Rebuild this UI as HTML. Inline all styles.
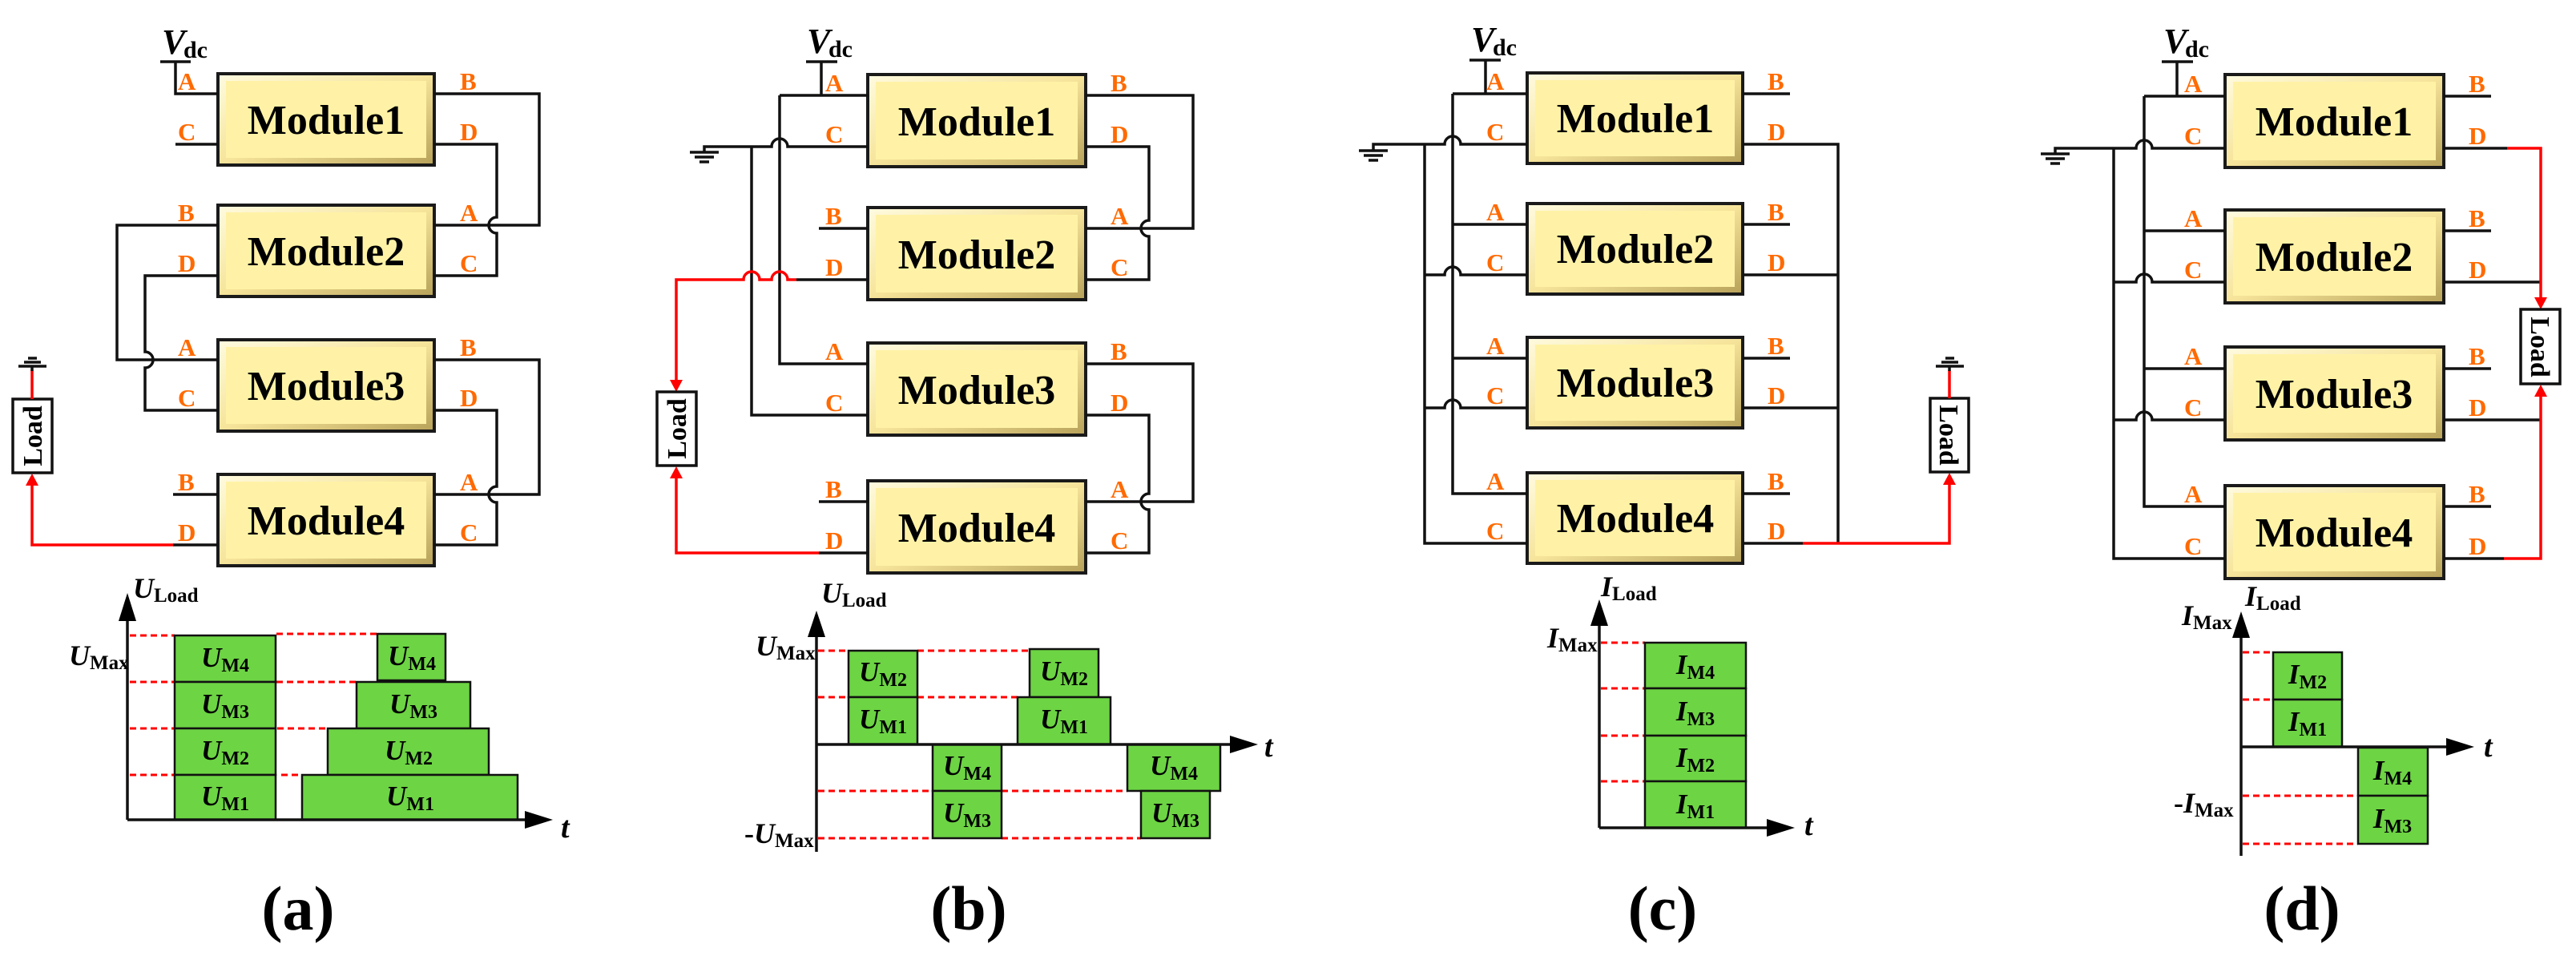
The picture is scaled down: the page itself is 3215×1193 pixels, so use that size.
<!DOCTYPE html>
<html><head><meta charset="utf-8"><style>
html,body{margin:0;padding:0;background:#fff}
svg{display:block}
.w{fill:none;stroke:#111;stroke-width:3.5;stroke-linejoin:miter}
.r{fill:none;stroke:#ff0000;stroke-width:3.5}
.d{fill:none;stroke:#ff0000;stroke-width:3;stroke-dasharray:8 5}
.mb{fill:url(#yg);stroke:#1a1a1a;stroke-width:4}
.mi{fill:#fff2a6;stroke:none}
.mt{font-family:"Liberation Serif",serif;font-weight:bold;font-size:52px;text-anchor:middle;fill:#000}
.p{font-family:"Liberation Serif",serif;font-weight:bold;font-size:31px;fill:#ff6a00}
.g{fill:#6dd444;stroke:#111;stroke-width:2.5}
.c{font-family:"Liberation Serif",serif;font-weight:bold;fill:#000}
.it{font-style:italic}
.ld{font-family:"Liberation Serif",serif;font-weight:bold;font-size:34px;text-anchor:middle;fill:#000}
.fl{font-family:"Liberation Serif",serif;font-weight:bold;font-size:78px;text-anchor:middle;fill:#000}
</style></head><body>
<svg width="3215" height="1193" viewBox="0 0 3215 1193" xmlns="http://www.w3.org/2000/svg">
<defs>
<linearGradient id="yg" x1="0" y1="0" x2="1" y2="1">
<stop offset="0" stop-color="#fffbe0"/><stop offset="0.5" stop-color="#f6e49a"/><stop offset="1" stop-color="#b8a25a"/>
</linearGradient>
</defs>
<rect width="3215" height="1193" fill="#fff"/>

<!-- ================= PANEL A ================= -->
<g>
<rect class="mb" x="272" y="92" width="270" height="114"/><rect class="mi" x="282" y="101" width="250" height="96"/>
<rect class="mb" x="272" y="256" width="270" height="114"/><rect class="mi" x="282" y="265" width="250" height="96"/>
<rect class="mb" x="272" y="424" width="270" height="114"/><rect class="mi" x="282" y="433" width="250" height="96"/>
<rect class="mb" x="272" y="592" width="270" height="114"/><rect class="mi" x="282" y="601" width="250" height="96"/>
<text class="mt" x="407" y="167">Module1</text>
<text class="mt" x="407" y="331">Module2</text>
<text class="mt" x="407" y="499">Module3</text>
<text class="mt" x="407" y="667">Module4</text>
<path class="w" d="M200 77 H238 M219 77 V117 H272 M219 180 H272"/>
<path class="w" d="M542 117 H673 V281 H542"/>
<path class="w" d="M542 180 H620 V271 A10 10 0 0 0 620 291 V344 H542"/>
<path class="w" d="M272 281 H146 V449 H272"/>
<path class="w" d="M272 344 H181 V439 A10 10 0 0 1 181 459 V512 H272"/>
<path class="w" d="M542 449 H673 V617 H542"/>
<path class="w" d="M542 512 H620 V607 A10 10 0 0 0 620 627 V680 H542"/>
<path class="w" d="M216 617 H272 M216 680 H272"/>
<path class="r" d="M216 680 H40 V604"/>
<polygon points="40,591 32,606 48,606" fill="#ff0000"/>
<rect x="16" y="498" width="49" height="92" fill="#fff" stroke="#111" stroke-width="3.5"/>
<text class="ld" transform="translate(52,544) rotate(-90)">Load</text>
<path class="r" d="M40 498 V462"/>
<path class="w" d="M40 463 V457 M23 457 H58 M30 452 H51 M35 447 H46"/>
<text class="c it" x="202" y="67" font-size="44">V</text><text class="c" x="229" y="72" font-size="30">dc</text>
<text class="p" x="222" y="112">A</text><text class="p" x="222" y="175">C</text>
<text class="p" x="222" y="276">B</text><text class="p" x="222" y="339">D</text>
<text class="p" x="222" y="444">A</text><text class="p" x="222" y="507">C</text>
<text class="p" x="222" y="612">B</text><text class="p" x="222" y="675">D</text>
<text class="p" x="574" y="112">B</text><text class="p" x="574" y="175">D</text>
<text class="p" x="574" y="276">A</text><text class="p" x="574" y="339">C</text>
<text class="p" x="574" y="444">B</text><text class="p" x="574" y="507">D</text>
<text class="p" x="574" y="612">A</text><text class="p" x="574" y="675">C</text>
<!-- chart a -->
<path class="d" d="M162 793 H218 M162 851 H218 M162 909 H218 M162 967 H218 M345 791 H471 M345 851 H445 M346 909 H409 M351 967 H376"/>
<rect class="g" x="218" y="793" width="126" height="58"/><rect class="g" x="218" y="851" width="126" height="58"/>
<rect class="g" x="218" y="909" width="126" height="58"/><rect class="g" x="218" y="967" width="126" height="56"/>
<rect class="g" x="471" y="791" width="85" height="58"/><rect class="g" x="445" y="851" width="142" height="58"/>
<rect class="g" x="409" y="909" width="201" height="58"/><rect class="g" x="377" y="967" width="269" height="56"/>
<path class="w" d="M159 1023 V770 M159 1023 H660"/>
<polygon points="159,740 148,775 170,775" fill="#000"/><polygon points="690,1023 655,1012 655,1034" fill="#000"/>
<g class="c" font-size="35" text-anchor="middle">
<text x="281" y="832"><tspan class="it">U</tspan><tspan font-size="24" dy="6">M4</tspan></text>
<text x="281" y="890"><tspan class="it">U</tspan><tspan font-size="24" dy="6">M3</tspan></text>
<text x="281" y="948"><tspan class="it">U</tspan><tspan font-size="24" dy="6">M2</tspan></text>
<text x="281" y="1005"><tspan class="it">U</tspan><tspan font-size="24" dy="6">M1</tspan></text>
<text x="514" y="830"><tspan class="it">U</tspan><tspan font-size="24" dy="6">M4</tspan></text>
<text x="516" y="890"><tspan class="it">U</tspan><tspan font-size="24" dy="6">M3</tspan></text>
<text x="510" y="948"><tspan class="it">U</tspan><tspan font-size="24" dy="6">M2</tspan></text>
<text x="512" y="1005"><tspan class="it">U</tspan><tspan font-size="24" dy="6">M1</tspan></text>
</g>
<text class="c" x="166" y="746" font-size="36"><tspan class="it">U</tspan><tspan font-size="25" dy="5">Load</tspan></text>
<text class="c" x="86" y="830" font-size="36"><tspan class="it">U</tspan><tspan font-size="25" dy="5">Max</tspan></text>
<text class="c it" x="700" y="1045" font-size="38">t</text>
<text class="fl" x="372" y="1160">(a)</text>
</g>

<!-- ================= PANEL B ================= -->
<g>
<rect class="mb" x="1083" y="93" width="272" height="115"/><rect class="mi" x="1093" y="102" width="252" height="97"/>
<rect class="mb" x="1083" y="259" width="272" height="115"/><rect class="mi" x="1093" y="268" width="252" height="97"/>
<rect class="mb" x="1083" y="428" width="272" height="115"/><rect class="mi" x="1093" y="437" width="252" height="97"/>
<rect class="mb" x="1083" y="600" width="272" height="115"/><rect class="mi" x="1093" y="609" width="252" height="97"/>
<text class="mt" x="1219" y="169">Module1</text>
<text class="mt" x="1219" y="335">Module2</text>
<text class="mt" x="1219" y="504">Module3</text>
<text class="mt" x="1219" y="676">Module4</text>
<path class="w" d="M1006 77 H1045 M1025 77 V119"/>
<path class="w" d="M973 119 H1083 M973 119 V454 H1083"/>
<path class="w" d="M879 190 V183 H963 A10 10 0 0 1 983 183 H1083 M861 190 H897 M867 196 H891 M873 202 H885"/>
<path class="w" d="M938 183 V518 H1083"/>
<path class="w" d="M1022 285 H1083 M994 349 H1083 M1022 626 H1083 M1022 690 H1083"/>
<path class="r" d="M994 349 H983 A10 10 0 0 0 963 349 H948 A10 10 0 0 0 928 349 H844 V476"/>
<polygon points="844,489 836,474 852,474" fill="#ff0000"/>
<path class="r" d="M1022 690 H844 V596"/>
<polygon points="844,582 836,597 852,597" fill="#ff0000"/>
<rect x="820" y="489" width="49" height="92" fill="#fff" stroke="#111" stroke-width="3.5"/>
<text class="ld" transform="translate(856,535) rotate(-90)">Load</text>
<path class="w" d="M1355 119 H1489 V285 H1355"/>
<path class="w" d="M1355 183 H1434 V275 A10 10 0 0 0 1434 295 V349 H1355"/>
<path class="w" d="M1355 454 H1489 V626 H1355"/>
<path class="w" d="M1355 518 H1434 V616 A10 10 0 0 0 1434 636 V690 H1355"/>
<text class="c it" x="1007" y="66" font-size="44">V</text><text class="c" x="1034" y="71" font-size="30">dc</text>
<text class="p" x="1030" y="114">A</text><text class="p" x="1030" y="178">C</text>
<text class="p" x="1030" y="280">B</text><text class="p" x="1030" y="344">D</text>
<text class="p" x="1030" y="449">A</text><text class="p" x="1030" y="513">C</text>
<text class="p" x="1030" y="621">B</text><text class="p" x="1030" y="685">D</text>
<text class="p" x="1386" y="114">B</text><text class="p" x="1386" y="178">D</text>
<text class="p" x="1386" y="280">A</text><text class="p" x="1386" y="344">C</text>
<text class="p" x="1386" y="449">B</text><text class="p" x="1386" y="513">D</text>
<text class="p" x="1386" y="621">A</text><text class="p" x="1386" y="685">C</text>
<!-- chart b -->
<path class="d" d="M1021 812 H1059 M1145 812 H1285 M1021 870 H1059 M1145 870 H1270 M1021 987 H1164 M1250 987 H1407 M1021 1046 H1164 M1250 1046 H1424"/>
<rect class="g" x="1059" y="812" width="86" height="58"/><rect class="g" x="1059" y="870" width="86" height="59"/>
<rect class="g" x="1164" y="929" width="86" height="58"/><rect class="g" x="1164" y="987" width="86" height="59"/>
<rect class="g" x="1285" y="810" width="86" height="60"/><rect class="g" x="1270" y="870" width="116" height="59"/>
<rect class="g" x="1407" y="929" width="116" height="58"/><rect class="g" x="1424" y="987" width="86" height="59"/>
<path class="w" d="M1019 1063 V790 M1019 929 H1540"/>
<polygon points="1019,762 1008,795 1030,795" fill="#000"/><polygon points="1570,929 1535,918 1535,940" fill="#000"/>
<g class="c" font-size="35" text-anchor="middle">
<text x="1102" y="850"><tspan class="it">U</tspan><tspan font-size="24" dy="6">M2</tspan></text>
<text x="1102" y="909"><tspan class="it">U</tspan><tspan font-size="24" dy="6">M1</tspan></text>
<text x="1207" y="967"><tspan class="it">U</tspan><tspan font-size="24" dy="6">M4</tspan></text>
<text x="1207" y="1026"><tspan class="it">U</tspan><tspan font-size="24" dy="6">M3</tspan></text>
<text x="1328" y="849"><tspan class="it">U</tspan><tspan font-size="24" dy="6">M2</tspan></text>
<text x="1328" y="909"><tspan class="it">U</tspan><tspan font-size="24" dy="6">M1</tspan></text>
<text x="1465" y="967"><tspan class="it">U</tspan><tspan font-size="24" dy="6">M4</tspan></text>
<text x="1467" y="1026"><tspan class="it">U</tspan><tspan font-size="24" dy="6">M3</tspan></text>
</g>
<text class="c" x="1025" y="752" font-size="36"><tspan class="it">U</tspan><tspan font-size="25" dy="5">Load</tspan></text>
<text class="c" x="943" y="818" font-size="36"><tspan class="it">U</tspan><tspan font-size="25" dy="5">Max</tspan></text>
<text class="c" x="929" y="1052" font-size="36">-<tspan class="it">U</tspan><tspan font-size="25" dy="5">Max</tspan></text>
<text class="c it" x="1578" y="944" font-size="38">t</text>
<text class="fl" x="1209" y="1160">(b)</text>
</g>

<!-- ================= PANEL C ================= -->
<g>
<rect class="mb" x="1906" y="91" width="269" height="113"/><rect class="mi" x="1916" y="100" width="249" height="95"/>
<rect class="mb" x="1906" y="254" width="269" height="113"/><rect class="mi" x="1916" y="263" width="249" height="95"/>
<rect class="mb" x="1906" y="421" width="269" height="113"/><rect class="mi" x="1916" y="430" width="249" height="95"/>
<rect class="mb" x="1906" y="590" width="269" height="113"/><rect class="mi" x="1916" y="599" width="249" height="95"/>
<text class="mt" x="2041" y="165">Module1</text>
<text class="mt" x="2041" y="328">Module2</text>
<text class="mt" x="2041" y="495">Module3</text>
<text class="mt" x="2041" y="664">Module4</text>
<path class="w" d="M1834 75 H1873 M1854 75 V117"/>
<path class="w" d="M1813 117 H1906 M1813 117 V616 H1906 M1813 280 H1906 M1813 447 H1906"/>
<path class="w" d="M1714 188 V180 H1803 A10 10 0 0 1 1823 180 H1906 M1696 188 H1732 M1702 194 H1726 M1708 200 H1720"/>
<path class="w" d="M1778 180 V678 H1906 M1778 343 H1803 A10 10 0 0 1 1823 343 H1906 M1778 509 H1803 A10 10 0 0 1 1823 509 H1906"/>
<path class="w" d="M2175 117 H2234 M2175 280 H2234 M2175 447 H2234 M2175 616 H2234"/>
<path class="w" d="M2175 180 H2294 V678 M2175 343 H2294 M2175 509 H2294 M2175 678 H2250"/>
<path class="r" d="M2250 678 H2433 V604"/>
<polygon points="2433,590 2425,605 2441,605" fill="#ff0000"/>
<rect x="2409" y="497" width="48" height="92" fill="#fff" stroke="#111" stroke-width="3.5"/>
<text class="ld" transform="translate(2421,543) rotate(90)">Load</text>
<path class="r" d="M2433 497 V462"/>
<path class="w" d="M2433 463 V457 M2416 457 H2451 M2423 452 H2444 M2428 447 H2439"/>
<text class="c it" x="1836" y="64" font-size="44">V</text><text class="c" x="1863" y="69" font-size="30">dc</text>
<text class="p" x="1855" y="112">A</text><text class="p" x="1855" y="175">C</text>
<text class="p" x="1855" y="275">A</text><text class="p" x="1855" y="338">C</text>
<text class="p" x="1855" y="442">A</text><text class="p" x="1855" y="504">C</text>
<text class="p" x="1855" y="611">A</text><text class="p" x="1855" y="673">C</text>
<text class="p" x="2206" y="112">B</text><text class="p" x="2206" y="175">D</text>
<text class="p" x="2206" y="275">B</text><text class="p" x="2206" y="338">D</text>
<text class="p" x="2206" y="442">B</text><text class="p" x="2206" y="504">D</text>
<text class="p" x="2206" y="611">B</text><text class="p" x="2206" y="673">D</text>
<!-- chart c -->
<path class="d" d="M1998 802 H2053 M1998 859 H2053 M1998 918 H2053 M1998 975 H2053"/>
<rect class="g" x="2053" y="802" width="126" height="57"/><rect class="g" x="2053" y="859" width="126" height="59"/>
<rect class="g" x="2053" y="918" width="126" height="57"/><rect class="g" x="2053" y="975" width="126" height="58"/>
<path class="w" d="M1996 1033 V775 M1996 1033 H2210"/>
<polygon points="1996,748 1985,781 2007,781" fill="#000"/><polygon points="2240,1033 2205,1022 2205,1044" fill="#000"/>
<g class="c" font-size="35" text-anchor="middle">
<text x="2116" y="841"><tspan class="it">I</tspan><tspan font-size="24" dy="6">M4</tspan></text>
<text x="2116" y="899"><tspan class="it">I</tspan><tspan font-size="24" dy="6">M3</tspan></text>
<text x="2116" y="957"><tspan class="it">I</tspan><tspan font-size="24" dy="6">M2</tspan></text>
<text x="2116" y="1015"><tspan class="it">I</tspan><tspan font-size="24" dy="6">M1</tspan></text>
</g>
<text class="c" x="1998" y="744" font-size="36"><tspan class="it">I</tspan><tspan font-size="25" dy="5">Load</tspan></text>
<text class="c" x="1931" y="808" font-size="36"><tspan class="it">I</tspan><tspan font-size="25" dy="5">Max</tspan></text>
<text class="c it" x="2252" y="1042" font-size="38">t</text>
<text class="fl" x="2075" y="1160">(c)</text>
</g>

<!-- ================= PANEL D ================= -->
<g>
<rect class="mb" x="2777" y="93" width="273" height="116"/><rect class="mi" x="2787" y="102" width="253" height="98"/>
<rect class="mb" x="2777" y="262" width="273" height="116"/><rect class="mi" x="2787" y="271" width="253" height="98"/>
<rect class="mb" x="2777" y="433" width="273" height="116"/><rect class="mi" x="2787" y="442" width="253" height="98"/>
<rect class="mb" x="2777" y="606" width="273" height="116"/><rect class="mi" x="2787" y="615" width="253" height="98"/>
<text class="mt" x="2913" y="169">Module1</text>
<text class="mt" x="2913" y="338">Module2</text>
<text class="mt" x="2913" y="509">Module3</text>
<text class="mt" x="2913" y="682">Module4</text>
<path class="w" d="M2698 77 H2737 M2717 77 V120"/>
<path class="w" d="M2676 120 H2777 M2676 120 V632 H2777 M2676 288 H2777 M2676 460 H2777"/>
<path class="w" d="M2565 192 V185 H2666 A10 10 0 0 1 2686 185 H2777 M2547 192 H2583 M2553 198 H2577 M2559 204 H2571"/>
<path class="w" d="M2638 185 V697 H2777 M2638 352 H2666 A10 10 0 0 1 2686 352 H2777 M2638 524 H2666 A10 10 0 0 1 2686 524 H2777"/>
<path class="w" d="M3050 120 H3109 M3050 288 H3109 M3050 460 H3109 M3050 632 H3109"/>
<path class="w" d="M3050 185 H3129 M3050 352 H3171 M3050 524 H3171 M3050 697 H3125"/>
<path class="r" d="M3129 185 H3171 V372"/>
<polygon points="3171,386 3163,371 3179,371" fill="#ff0000"/>
<path class="r" d="M3125 697 H3171 V494"/>
<polygon points="3171,480 3163,495 3179,495" fill="#ff0000"/>
<rect x="3146" y="386" width="49" height="93" fill="#fff" stroke="#111" stroke-width="3.5"/>
<text class="ld" transform="translate(3159,433) rotate(90)">Load</text>
<text class="c it" x="2700" y="66" font-size="44">V</text><text class="c" x="2727" y="71" font-size="30">dc</text>
<text class="p" x="2726" y="115">A</text><text class="p" x="2726" y="180">C</text>
<text class="p" x="2726" y="283">A</text><text class="p" x="2726" y="347">C</text>
<text class="p" x="2726" y="455">A</text><text class="p" x="2726" y="519">C</text>
<text class="p" x="2726" y="627">A</text><text class="p" x="2726" y="692">C</text>
<text class="p" x="3081" y="115">B</text><text class="p" x="3081" y="180">D</text>
<text class="p" x="3081" y="283">B</text><text class="p" x="3081" y="347">D</text>
<text class="p" x="3081" y="455">B</text><text class="p" x="3081" y="519">D</text>
<text class="p" x="3081" y="627">B</text><text class="p" x="3081" y="692">D</text>
<!-- chart d -->
<path class="d" d="M2799 814 H2837 M2799 873 H2837 M2799 993 H2943 M2799 1053 H2943"/>
<rect class="g" x="2837" y="814" width="86" height="59"/><rect class="g" x="2837" y="873" width="86" height="59"/>
<rect class="g" x="2943" y="933" width="87" height="60"/><rect class="g" x="2943" y="993" width="87" height="60"/>
<path class="w" d="M2797 1068 V795 M2797 932 H3058"/>
<polygon points="2797,763 2786,796 2808,796" fill="#000"/><polygon points="3088,932 3053,921 3053,943" fill="#000"/>
<g class="c" font-size="35" text-anchor="middle">
<text x="2880" y="853"><tspan class="it">I</tspan><tspan font-size="24" dy="6">M2</tspan></text>
<text x="2880" y="912"><tspan class="it">I</tspan><tspan font-size="24" dy="6">M1</tspan></text>
<text x="2986" y="973"><tspan class="it">I</tspan><tspan font-size="24" dy="6">M4</tspan></text>
<text x="2986" y="1033"><tspan class="it">I</tspan><tspan font-size="24" dy="6">M3</tspan></text>
</g>
<text class="c" x="2802" y="756" font-size="36"><tspan class="it">I</tspan><tspan font-size="25" dy="5">Load</tspan></text>
<text class="c" x="2723" y="780" font-size="36"><tspan class="it">I</tspan><tspan font-size="25" dy="5">Max</tspan></text>
<text class="c" x="2713" y="1014" font-size="36">-<tspan class="it">I</tspan><tspan font-size="25" dy="5">Max</tspan></text>
<text class="c it" x="3100" y="944" font-size="38">t</text>
<text class="fl" x="2873" y="1160">(d)</text>
</g>
</svg>
</body></html>
